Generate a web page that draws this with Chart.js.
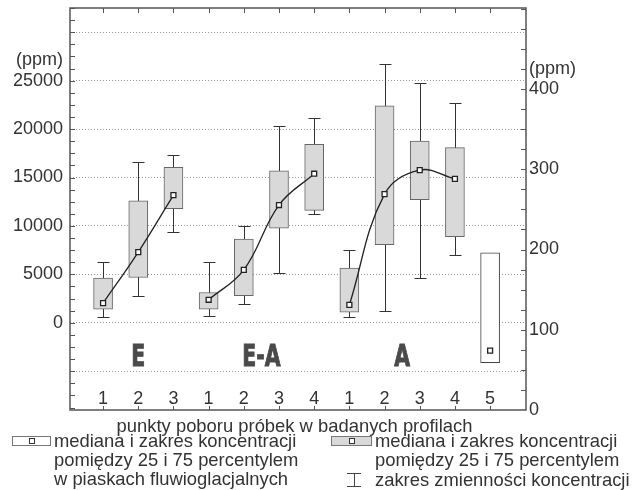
<!DOCTYPE html>
<html>
<head>
<meta charset="utf-8">
<script src="https://cdn.jsdelivr.net/npm/chart.js@4.4.1/dist/chart.umd.min.js"></script>
<style>
  body { margin: 0; background: #fff; }
  #wrap { position: relative; width: 644px; height: 490px; font-family: "Liberation Sans", Arial, sans-serif; color: #333; }
  #chart { position: absolute; left: 0; top: 0; }
  .txt { position: absolute; font-size: 18.4px; line-height: 19px; white-space: nowrap; }
  .icon { position: absolute; height: 8px; border: 1px solid #777; }
  .icon i { position: absolute; left: 50%; top: 50%; width: 4px; height: 4px; margin: -3px 0 0 -3px; border: 1px solid #333; background: #fff; }
  .whisk { position: absolute; left: 347px; top: 473px; width: 14px; height: 14px; }
  .whisk:before { content: ""; position: absolute; left: 7px; top: 0; width: 1px; height: 14px; background: #444; }
  .whisk:after { content: ""; position: absolute; left: 0; top: 0; width: 14px; height: 12px; border-top: 1px solid #444; border-bottom: 1px solid #444; }
</style>
</head>
<body>
<div id="wrap">
  <canvas id="chart" width="644" height="490"></canvas>
  <div class="txt" style="left:0;width:589px;text-align:center;top:416px">punkty poboru próbek w badanych profilach</div>
  <div class="icon" style="left:12px;top:436px;width:37px;background:#fff"><i></i></div>
  <div class="txt" style="left:54px;top:431px">mediana i zakres koncentracji</div>
  <div class="txt" style="left:54px;top:450px">pomiędzy 25 i 75 percentylem</div>
  <div class="txt" style="left:54px;top:469px">w piaskach fluwioglacjalnych</div>
  <div class="icon" style="left:331px;top:436px;width:39px;background:#d9d9d9"><i></i></div>
  <div class="txt" style="left:375px;top:431px">mediana i zakres koncentracji</div>
  <div class="txt" style="left:375px;top:450px">pomiędzy 25 i 75 percentylem</div>
  <div class="whisk"></div>
  <div class="txt" style="left:375px;top:470px">zakres zmienności koncentracji</div>
</div>
<script>
// punkty poboru (pozycje na osi x) i ich etykiety
const pointLabels = ['1', '2', '3', '1', '2', '3', '4', '1', '2', '3', '4', '5'];
const groupNames = ['E', 'E-A', 'A'];

// profil E (lewa oś, ppm)
const posE = [1, 2, 3];
const eMin = [650, 2720, 9330];
const eQ1 = [1410, 4680, 11780];
const eMed = [2030, 7300, 13190];
const eQ3 = [4620, 12600, 16040];
const eMax = [6330, 16560, 17320];

// profil E-A (lewa oś, ppm)
const posEA = [4, 5, 6, 7];
const eaMin = [720, 1930, 5130, 11190];
const eaQ1 = [1410, 2790, 9780, 11600];
const eaMed = [2380, 5470, 12160, 15390];
const eaQ3 = [3130, 8650, 15700, 18420];
const eaMax = [6330, 9950, 20350, 21100];

// profil A (prawa oś, ppm)
const posA = [8, 9, 10, 11];
const aMin = [116, 123, 164, 193];
const aQ1 = [122, 206, 262, 216];
const aMed = [131, 269, 299, 288];
const aQ3 = [177, 379, 335, 327];
const aMax = [200, 431, 407, 382];

// piaski fluwioglacjalne (prawa oś, ppm)
const posSand = [12];
const sandQ1 = [59];
const sandMed = [74];
const sandQ3 = [196];

// osie
const leftTicks = [-5000, 0, 5000, 10000, 15000, 20000, 25000, 30000];
const leftLabelled = [0, 5000, 10000, 15000, 20000, 25000];
const rightTicks = [0, 100, 200, 300, 400];

const boxes = (pos, lo, hi) => pos.map((p, i) => ({ x: p, y: [lo[i], hi[i]] }));
const pts = (pos, v) => pos.map((p, i) => ({ x: p, y: v[i] }));
const mid = pos => (pos[0] + pos[pos.length - 1]) / 2;

const TEXT = '#333';
const FONT = '"Liberation Sans", Arial, sans-serif';

const decor = {
    id: 'decor',
    beforeDatasetsDraw(chart) {
        const { ctx, scales: { x, y, y2 } } = chart;
        ctx.save();
        ctx.strokeStyle = '#333';
        ctx.lineWidth = 1;
        const whiskers = (pos, lo, hi, sc) => {
            pos.forEach((p, i) => {
                const px = Math.round(x.getPixelForValue(p)) + 0.5;
                const t = Math.round(sc.getPixelForValue(hi[i])) + 0.5;
                const b = Math.round(sc.getPixelForValue(lo[i])) + 0.5;
                ctx.beginPath();
                ctx.moveTo(px, t); ctx.lineTo(px, b);
                ctx.moveTo(px - 6, t); ctx.lineTo(px + 6, t);
                ctx.moveTo(px - 6, b); ctx.lineTo(px + 6, b);
                ctx.stroke();
            });
        };
        whiskers(posE, eMin, eMax, y);
        whiskers(posEA, eaMin, eaMax, y);
        whiskers(posA, aMin, aMax, y2);
        ctx.restore();
    },
    afterDraw(chart) {
        const { ctx, chartArea: a, scales: { x, y, y2 } } = chart;
        ctx.save();
        // ramka
        ctx.strokeStyle = '#555';
        ctx.lineWidth = 1.5;
        ctx.strokeRect(a.left, a.top, a.right - a.left, a.bottom - a.top);
        // znaczniki
        ctx.lineWidth = 1;
        ctx.beginPath();
        for (let v = -8750; v <= y.max; v += 1250) {
            const py = Math.round(y.getPixelForValue(v)) + 0.5;
            ctx.moveTo(a.left, py); ctx.lineTo(a.left + 5, py);
        }
        for (let v = 25; v <= y2.max; v += 25) {
            const py = Math.round(y2.getPixelForValue(v)) + 0.5;
            ctx.moveTo(a.right, py); ctx.lineTo(a.right - 5, py);
        }
        pointLabels.forEach((l, i) => {
            const px = Math.round(x.getPixelForValue(i + 1)) + 0.5;
            ctx.moveTo(px, a.bottom); ctx.lineTo(px, a.bottom - 4);
            ctx.moveTo(px, a.top); ctx.lineTo(px, a.top + 5);
        });
        ctx.stroke();
        // etykiety punktów
        ctx.fillStyle = TEXT;
        ctx.font = '18px ' + FONT;
        ctx.textAlign = 'center';
        ctx.textBaseline = 'middle';
        pointLabels.forEach((l, i) => ctx.fillText(l, x.getPixelForValue(i + 1), a.bottom - 11));
        // jednostki
        ctx.textAlign = 'right';
        ctx.fillText('(ppm)', a.left - 7, 60);
        ctx.textAlign = 'left';
        ctx.fillText('(ppm)', a.right + 3, 69);
        // nazwy profili
        ctx.fillStyle = '#4a4a4a';
        ctx.strokeStyle = '#4a4a4a';
        ctx.lineWidth = 1;
        ctx.font = 'bold 31px "DejaVu Sans", sans-serif';
        ctx.textAlign = 'center';
        ctx.textBaseline = 'alphabetic';
        [posE, posEA, posA].forEach((pos, i) => {
            ctx.save();
            ctx.translate(x.getPixelForValue(mid(pos)), y.getPixelForValue(-3300) + 11.5);
            ctx.scale(0.66, 1);
            ctx.fillText(groupNames[i], 0, 0);
            ctx.strokeText(groupNames[i], 0, 0);
            ctx.restore();
        });
        ctx.restore();
    }
};

const lineStyle = {
    type: 'line',
    borderColor: '#222',
    borderWidth: 1.3,
    tension: 0.4,
    pointStyle: 'rect',
    pointRadius: 3.5,
    pointBackgroundColor: '#fff',
    pointBorderColor: '#222',
    pointBorderWidth: 1.3,
    order: 0
};
const boxStyle = {
    type: 'bar',
    barThickness: 19,
    grouped: false,
    borderColor: '#666',
    borderWidth: 1,
    borderSkipped: false,
    order: 1
};

// bez dodatkowego marginesu na etykiety skrajne
const noPad = s => { s.paddingTop = 0; s.paddingBottom = 0; };

new Chart(document.getElementById('chart'), {
    type: 'bar',
    data: {
        datasets: [
            { ...lineStyle, data: pts(posE, eMed), yAxisID: 'y' },
            { ...lineStyle, data: pts(posEA, eaMed), yAxisID: 'y' },
            { ...lineStyle, data: pts(posA, aMed), yAxisID: 'y2' },
            { ...lineStyle, data: pts(posSand, sandMed), yAxisID: 'y2', showLine: false },
            { ...boxStyle, data: boxes(posE, eQ1, eQ3), backgroundColor: '#d9d9d9', yAxisID: 'y' },
            { ...boxStyle, data: boxes(posEA, eaQ1, eaQ3), backgroundColor: '#d9d9d9', yAxisID: 'y' },
            { ...boxStyle, data: boxes(posA, aQ1, aQ3), backgroundColor: '#d9d9d9', yAxisID: 'y2' },
            { ...boxStyle, data: boxes(posSand, sandQ1, sandQ3), backgroundColor: '#fff', borderColor: '#444', yAxisID: 'y2' }
        ]
    },
    options: {
        responsive: false,
        animation: false,
        layout: { padding: { top: 8, left: 0, right: 0, bottom: 0 } },
        plugins: { legend: { display: false }, tooltip: { enabled: false } },
        scales: {
            x: {
                type: 'linear',
                min: 0.06,
                max: 13.02,
                offset: false,
                grid: { display: false },
                border: { display: false },
                ticks: { display: false },
                afterFit: s => { s.height = 80; s.paddingLeft = 0; s.paddingRight = 0; }
            },
            y: {
                position: 'left',
                min: -9000,
                max: 32500,
                afterBuildTicks: s => { s.ticks = leftTicks.map(v => ({ value: v })); },
                ticks: {
                    color: TEXT,
                    font: { family: FONT, size: 18 },
                    padding: 7,
                    callback: v => leftLabelled.includes(v) ? String(v) : ''
                },
                grid: { color: '#999', lineWidth: 1, drawTicks: false },
                border: { display: false, dash: [1, 2] },
                afterFit: s => { s.width = 70; noPad(s); }
            },
            y2: {
                position: 'right',
                min: 0,
                max: 501,
                afterBuildTicks: s => { s.ticks = rightTicks.map(v => ({ value: v })); },
                ticks: {
                    color: TEXT,
                    font: { family: FONT, size: 18 },
                    padding: 3,
                    callback: v => String(v)
                },
                grid: { drawOnChartArea: false, drawTicks: false },
                border: { display: false },
                afterFit: s => { s.width = 118; noPad(s); }
            }
        }
    },
    plugins: [decor]
});
</script>
</body>
</html>
